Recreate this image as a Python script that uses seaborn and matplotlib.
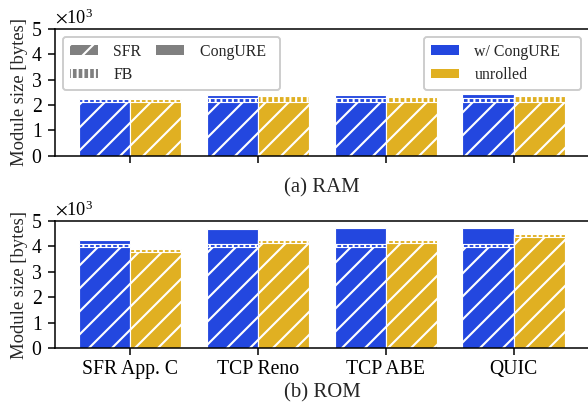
import numpy as np
import pandas as pd
import matplotlib
matplotlib.use("Agg")
import matplotlib.pyplot as plt
import matplotlib.ticker as mticker
from matplotlib.patches import Patch
import seaborn as sns

# ---------------- data ----------------
categories = ["SFR App. C", "TCP Reno", "TCP ABE", "QUIC"]
variants = ["w/ CongURE", "unrolled"]
components = ["SFR", "FB", "CongURE"]

# RAM [bytes]
ram_congure_sfr = [2120, 2120, 2120, 2120]
ram_congure_fb = [120, 140, 140, 140]
ram_congure_cong = [0, 120, 140, 170]
ram_unrolled_sfr = [2120, 2120, 2120, 2120]
ram_unrolled_fb = [120, 220, 200, 250]
ram_unrolled_cong = [0, 0, 0, 0]

# ROM [bytes]
rom_congure_sfr = [3970, 3970, 3970, 3970]
rom_congure_fb = [140, 140, 140, 140]
rom_congure_cong = [130, 580, 620, 620]
rom_unrolled_sfr = [3780, 4120, 4130, 4360]
rom_unrolled_fb = [110, 120, 110, 110]
rom_unrolled_cong = [0, 0, 0, 0]

colors = {"w/ CongURE": "#2347df", "unrolled": "#e0b022"}


def make_df(c_sfr, c_fb, c_cong, u_sfr, u_fb, u_cong):
    rows = []
    for v, (s, f, c) in zip(variants, [(c_sfr, c_fb, c_cong), (u_sfr, u_fb, u_cong)]):
        for i, cat in enumerate(categories):
            rows.append({"category": cat, "variant": v,
                         "sfr": s[i], "sfr_fb": s[i] + f[i],
                         "total": s[i] + f[i] + c[i]})
    return pd.DataFrame(rows)


df_ram = make_df(ram_congure_sfr, ram_congure_fb, ram_congure_cong,
                 ram_unrolled_sfr, ram_unrolled_fb, ram_unrolled_cong)
df_rom = make_df(rom_congure_sfr, rom_congure_fb, rom_congure_cong,
                 rom_unrolled_sfr, rom_unrolled_fb, rom_unrolled_cong)

# ---------------- style ----------------
sns.set_theme(style="ticks")
plt.rcParams["font.family"] = ["Liberation Serif", "DejaVu Serif"]
plt.rcParams["mathtext.fontset"] = "stix"
plt.rcParams["hatch.color"] = "white"
plt.rcParams["hatch.linewidth"] = 1.1
plt.rcParams["axes.edgecolor"] = "black"
plt.rcParams["axes.linewidth"] = 0.8
plt.rcParams["xtick.color"] = "black"
plt.rcParams["ytick.color"] = "black"
FS_TICK = 10.3
FS_YLAB = 9.7
FS_XLAB = 10.8
FS_LEG = 8.3
FS_OFF = 9.5
plt.rcParams["font.size"] = FS_TICK

DPI = 138
fig = plt.figure(figsize=(588 / DPI, 409 / DPI), dpi=DPI)
ax_ram = fig.add_axes([0.0935, 0.619, 0.908, 0.3105])
ax_rom = fig.add_axes([0.0935, 0.1491, 0.908, 0.3105])


def draw(ax, df):
    for col, hatch in [("total", None), ("sfr_fb", "||||"), ("sfr", "//")]:
        sns.barplot(data=df, x="category", y=col, hue="variant",
                    order=categories, hue_order=variants, palette=colors,
                    ax=ax, width=0.8, edgecolor="white", linewidth=0.6,
                    hatch=hatch, legend=False, errorbar=None, saturation=1)
    ax.set_xlim(-0.59, 3.59)
    ax.set_ylim(0, 5000)
    ax.set_yticks([0, 1000, 2000, 3000, 4000, 5000])
    fmt = mticker.ScalarFormatter(useMathText=True)
    fmt.set_powerlimits((0, 0))
    ax.yaxis.set_major_formatter(fmt)
    ax.yaxis.get_offset_text().set_fontsize(FS_OFF)
    ax.set_ylabel("Module size [bytes]", fontsize=FS_YLAB, labelpad=1.5)
    ax.tick_params(labelsize=FS_TICK, direction="out", length=3.5, width=0.8, pad=3)
    ax.spines["right"].set_visible(False)
    ax.spines["top"].set_visible(True)


draw(ax_ram, df_ram)
draw(ax_rom, df_rom)

ax_ram.tick_params(axis="x", labelbottom=False)
ax_ram.set_xlabel("(a) RAM", fontsize=FS_XLAB, labelpad=8)
ax_rom.set_xlabel("(b) ROM", fontsize=FS_XLAB, labelpad=2)

# legends
hatch_handles = [
    Patch(facecolor="#808080", edgecolor="white", linewidth=0, hatch="//", label="SFR"),
    Patch(facecolor="#808080", edgecolor="white", linewidth=0, hatch="||||", label="FB"),
    Patch(facecolor="#808080", edgecolor="white", linewidth=0, label="CongURE\u2002"),
]
leg_kw = dict(fontsize=FS_LEG, handlelength=1.8, handleheight=0.55,
              handletextpad=0.95, borderpad=0.42, labelspacing=0.48,
              fancybox=True, edgecolor="0.8", framealpha=1, borderaxespad=0)
leg1 = ax_ram.legend(handles=hatch_handles, loc="upper left", ncol=2,
                     columnspacing=0.9,
                     bbox_to_anchor=(0.015, 0.0, 0.406, 0.937), **leg_kw)
ax_ram.add_artist(leg1)
color_handles = [Patch(facecolor=colors[v], edgecolor="none", label=v) for v in variants]
ax_ram.legend(handles=color_handles, loc="upper left", mode="expand",
              bbox_to_anchor=(0.691, 0.0, 0.294, 0.937), **leg_kw)

fig.savefig("out.png", dpi=DPI)
